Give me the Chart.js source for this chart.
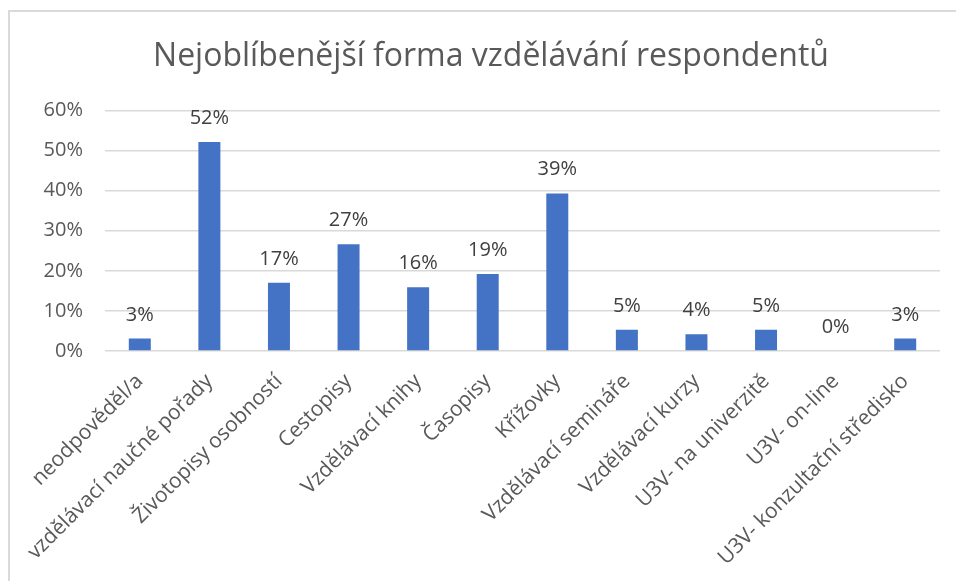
<!DOCTYPE html>
<html>
<head>
<meta charset="utf-8">
<script src="https://cdn.jsdelivr.net/npm/chart.js@4"></script>
<style>
  body { margin: 0; background: #fff; }
  #wrap { position: relative; width: 956px; height: 581px; overflow: hidden; }
  #frame { position: absolute; left: 8px; top: 10px; width: 980px; height: 600px; border: 2px solid #dadada; }
  canvas { position: absolute; left: 0; top: 0; }
</style>
</head>
<body>
<div id="wrap">
  <div id="frame"></div>
  <canvas id="myChart" width="956" height="581"></canvas>
</div>
<script>
const title = 'Nejoblíbenější forma vzdělávání respondentů';

const categories = [
  'neodpověděl/a',
  'vzdělávací naučné pořady',
  'Životopisy osobností',
  'Cestopisy',
  'Vzdělávací knihy',
  'Časopisy',
  'Křížovky',
  'Vzdělávací semináře',
  'Vzdělávací kurzy',
  'U3V- na univerzitě',
  'U3V- on-line',
  'U3V- konzultační středisko'
];

// percent of respondents
const values = [3.1, 52.1, 17.0, 26.6, 15.9, 19.2, 39.3, 5.3, 4.2, 5.3, 0, 3.1];

const yTicks = [0, 10, 20, 30, 40, 50, 60];

const fontFamily = '"Open Sans", sans-serif';
const textColor = '#595959';

// value labels above the bars
const barLabels = {
  id: 'barLabels',
  afterDatasetsDraw(chart) {
    const ctx = chart.ctx;
    const meta = chart.getDatasetMeta(0);
    ctx.save();
    ctx.font = '20px ' + fontFamily;
    ctx.fillStyle = '#404040';
    ctx.textAlign = 'center';
    ctx.textBaseline = 'alphabetic';
    meta.data.forEach((bar, i) => {
      ctx.fillText(Math.round(values[i]) + '%', bar.x, bar.y - 18);
    });
    ctx.restore();
  }
};

const ctx = document.getElementById('myChart');

new Chart(ctx, {
  type: 'bar',
  data: {
    labels: categories,
    datasets: [{
      data: values,
      backgroundColor: '#4472C4',
      borderWidth: 0,
      categoryPercentage: 1,
      barPercentage: 0.316
    }]
  },
  options: {
    responsive: false,
    animation: false,
    devicePixelRatio: 1,
    layout: { padding: { left: 42, right: 16, top: 0, bottom: 0 } },
    plugins: {
      legend: { display: false },
      tooltip: { enabled: false },
      title: {
        display: true,
        text: title,
        color: textColor,
        font: { family: fontFamily, size: 32, weight: 'normal' },
        padding: { top: 38, bottom: 34 }
      }
    },
    scales: {
      y: {
        min: 0,
        max: 60,
        afterBuildTicks(scale) {
          scale.ticks = yTicks.map(v => ({ value: v }));
        },
        afterFit(scale) { scale.width = 63; },
        ticks: {
          color: textColor,
          font: { family: fontFamily, size: 20 },
          padding: 22,
          callback: v => v + '%'
        },
        grid: { color: '#d9d9d9', lineWidth: 1.5, drawTicks: false },
        border: { display: false }
      },
      x: {
        afterFit(scale) { scale.height = 230; },
        ticks: {
          color: textColor,
          font: { family: fontFamily, size: 21 },
          minRotation: 45,
          maxRotation: 45,
          autoSkip: false,
          padding: 10
        },
        grid: { display: false },
        border: { display: false }
      }
    }
  },
  plugins: [barLabels]
});
</script>
</body>
</html>
